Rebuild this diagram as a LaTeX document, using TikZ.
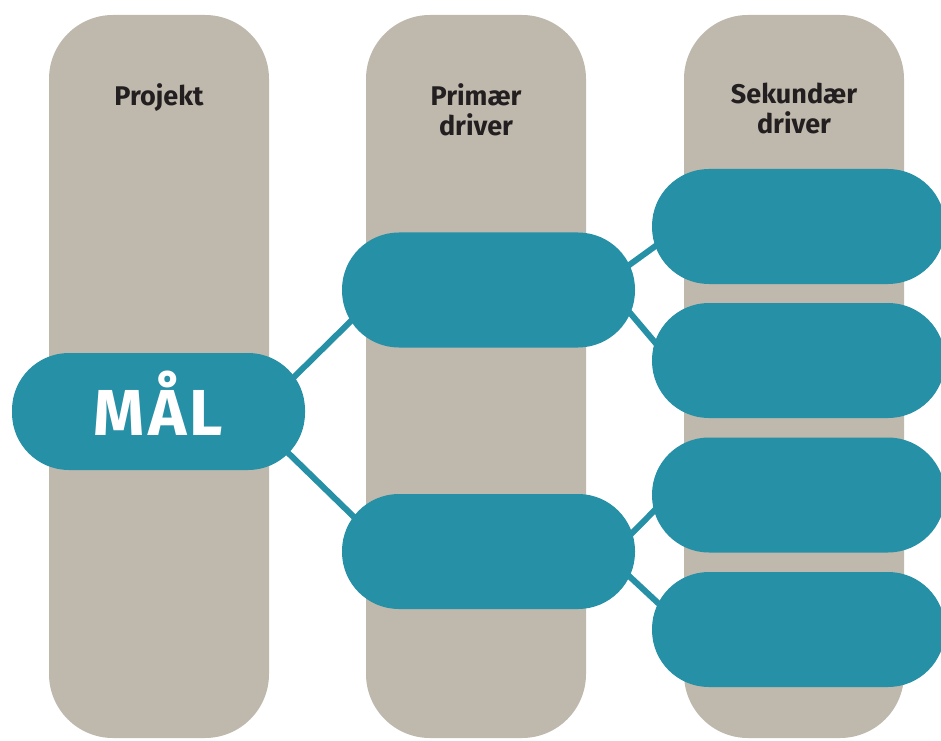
\documentclass[tikz,border=0pt]{standalone}
\usepackage{fontspec}
\setmainfont{Fira Sans}
\usepackage{xcolor}
\usetikzlibrary{backgrounds}
\definecolor{sand}{HTML}{BFB8AC}
\definecolor{petrol}{HTML}{2690A6}
\definecolor{ink}{HTML}{231F20}

\begin{document}
\begin{tikzpicture}[x=1pt,y=1pt]
            \tikzset{
            drv lane/.style={fill=sand,rounded corners=64pt,minimum width=220pt,minimum height=723pt,inner sep=0},
            drv head/.style={anchor=north,inner sep=0,align=center,text=ink,font=\fontsize{27}{30}\selectfont\bfseries},
            drv node/.style={fill=petrol,rounded corners=57pt,minimum width=293pt,minimum height=115pt,inner sep=0},
            drv edge/.style={draw=petrol,line width=6pt}
            }
            \useasboundingbox (0,0) rectangle (941,740);

            % the three lanes
            \node[drv lane] (L1) at (159,363.5) {};
            \node[drv lane] (L2) at (476,363.5) {};
            \node[drv lane] (L3) at (794,363.5) {};
            \node[drv head] (H1) at (159,657) {Projekt};
            \node[drv head] (H2) at (476,657) {Primær\\driver};
            \node[drv head] (H3) at (794,657) {Sekundær\\driver};

            % goal, primary and secondary drivers
            \node[drv node,minimum height=117pt,text=white,text height=47pt,text depth=0pt,
                  font=\fontsize{65}{65}\selectfont\bfseries\addfontfeatures{LetterSpace=5}] (mal) at (158.5,328.5) {MÅL};
            \node[drv node] (p1) at (488.5,450) {};
            \node[drv node] (p2) at (488.5,188.5) {};
            \node[drv node] (s1) at (798.5,513.5) {};
            \node[drv node] (s2) at (798.5,379.5) {};
            \node[drv node] (s3) at (798.5,245) {};
            \node[drv node] (s4) at (798.5,110.5) {};

            \begin{scope}[on background layer]
            \path[drv edge]
            ([shift={(-35,11)}]mal.east) edge ([shift={(38,-2.6)}]p1.west)
            ([shift={(-35,-24)}]mal.east) edge ([shift={(38,9.4)}]p2.west)
            ([shift={(-25,11.2)}]p1.east) edge ([shift={(28,-1.9)}]s1.west)
            ([shift={(-25,0.5)}]p1.east) edge ([shift={(28,-11.2)}]s2.west)
            ([shift={(-25,-3.5)}]p2.east) edge ([shift={(28,10)}]s3.west)
            ([shift={(-25,-7)}]p2.east) edge ([shift={(28,6.2)}]s4.west)
            ;
            \end{scope}
        \end{tikzpicture}
\end{document}
